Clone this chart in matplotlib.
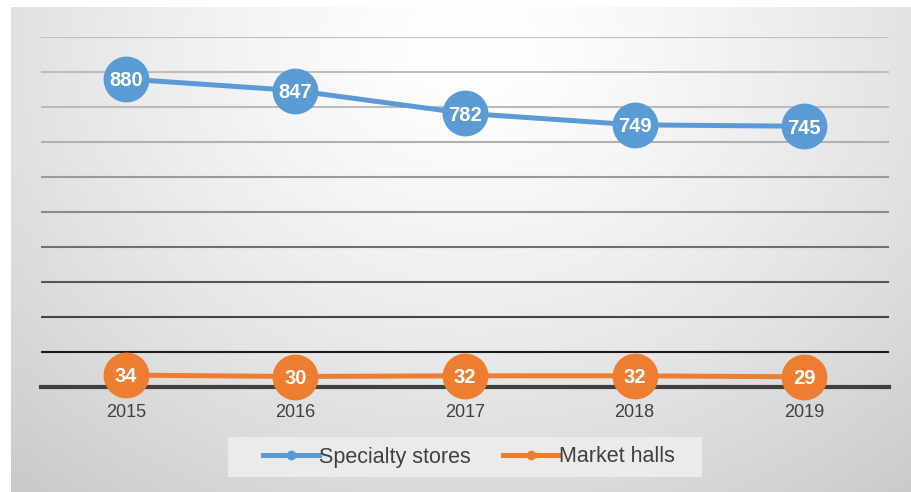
import numpy as np
import matplotlib
matplotlib.use("Agg")
import matplotlib.pyplot as plt
from matplotlib.lines import Line2D
from matplotlib.patches import Rectangle

years = ["2015", "2016", "2017", "2018", "2019"]
specialty_stores = [880, 847, 782, 749, 745]
market_halls = [34, 30, 32, 32, 29]
grid_levels = [100, 200, 300, 400, 500, 600, 700, 800, 900, 1000]
grid_colors = ["#1c1c1c", "#444444", "#555555", "#707070", "#8a8a8a",
               "#9a9a9a", "#b0b0b0", "#bbbbbb", "#bdbdbd", "#bfbfbf"]

BLUE = "#5b9bd5"
ORANGE = "#ed7d31"
TEXT = "#404040"
FONT = ["Liberation Sans", "DejaVu Sans"]

W, H = 912, 492
fig = plt.figure(figsize=(W / 100, H / 100), dpi=100)
fig.patch.set_facecolor("white")

# radial grey gradient behind the chart
bg = fig.add_axes([11 / W, 0, 1 - 11 / W, 1 - 7 / H])
bg.set_axis_off()
yy, xx = np.mgrid[0:485, 0:901]
cx, cy = 460, 35
t = np.sqrt(((xx - cx) / 620) ** 2 + ((yy - cy) / 520) ** 2)
shade = 255 - 45 * np.clip(t, 0, 1.15) ** 1.4
img = np.dstack([shade, shade, shade]) / 255.0
bg.imshow(np.clip(img, 0, 1), aspect="auto", interpolation="bilinear")

# legend box
fig.patches.append(Rectangle((228 / W, 1 - 477 / H), 474 / W, 40 / H,
                             transform=fig.transFigure, facecolor="#ebebeb",
                             edgecolor="none", zorder=1))

ax = fig.add_axes([41 / W, (H - 387) / H, 848 / W, 350 / H])
ax.set_facecolor("none")
x = np.arange(len(years))
ax.set_xlim(-0.5, len(years) - 0.5)
ax.set_ylim(0, 1000)

for lvl, col in zip(grid_levels, grid_colors):
    ax.axhline(lvl, color=col, lw=1.5, zorder=1)

for side in ["top", "right", "left"]:
    ax.spines[side].set_visible(False)
ax.spines["bottom"].set_color("#404040")
ax.spines["bottom"].set_linewidth(3.0)
ax.spines["bottom"].set_zorder(1.5)

ax.set_yticks([])
ax.set_xticks(x)
ax.set_xticklabels(years, fontsize=13, color=TEXT, family=FONT)
ax.tick_params(axis="x", length=0, pad=12)

LABEL_SIZE = 14.5
for vals, col in [(specialty_stores, BLUE), (market_halls, ORANGE)]:
    ax.plot(x, vals, color=col, lw=3.6, marker="o", markersize=33,
            markeredgewidth=0, zorder=3, clip_on=False)
    for xi, v in zip(x, vals):
        # centre the digits (not the full text box) on the marker
        ax.annotate(str(v), (xi, v), xytext=(0, -0.36 * LABEL_SIZE),
                    textcoords="offset points", ha="center", va="baseline",
                    color="white", fontsize=LABEL_SIZE, fontweight="bold",
                    family=FONT, zorder=4)

handles = [Line2D([], [], color=BLUE, lw=3.6, marker="o", markersize=6),
           Line2D([], [], color=ORANGE, lw=3.6, marker="o", markersize=6)]
leg = fig.legend(handles, ["Specialty stores", "Market halls"], loc="center",
                 bbox_to_anchor=(469 / W, 1 - 457 / H), ncol=2, frameon=False,
                 handlelength=2.6, handletextpad=0.0, columnspacing=1.5,
                 prop={"family": FONT, "size": 15.5})
for txt in leg.get_texts():
    txt.set_color(TEXT)

fig.savefig("out.png", dpi=100)
